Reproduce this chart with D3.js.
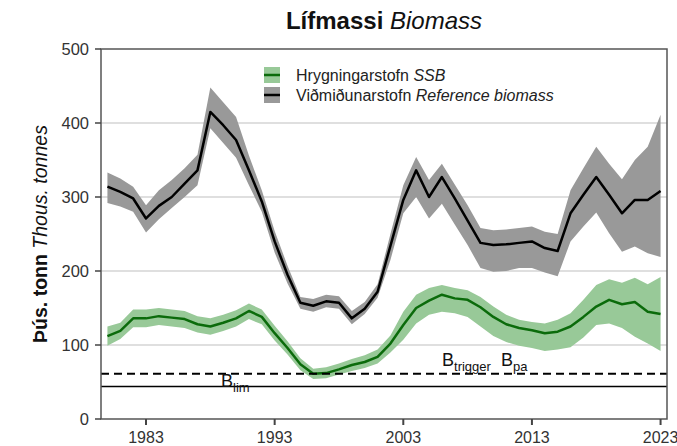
<!DOCTYPE html>
<html lang="is">
<head>
<meta charset="UTF-8">
<title>Lífmassi Biomass</title>
<script src="https://d3js.org/d3.v7.min.js"></script>
<style>
  body { margin: 0; background: #fff; }
  svg { font-family: "Liberation Sans", Arial, sans-serif; }
  .tick-label { fill: #333; font-size: 16px; }
</style>
</head>
<body>
<svg width="677" height="446"></svg>
<script>
// years 1980-2023
const years = d3.range(1980, 2024);

// Viðmiðunarstofn / reference biomass (thous. tonnes)
const refBio = [314, 307, 298, 271, 288, 300, 318, 336, 415, 397, 377, 336, 294, 240,
  195, 157, 153, 159, 157, 136, 149, 172, 234, 296, 336, 300, 327, 298, 268, 238,
  235, 236, 238, 240, 231, 227, 278, 303, 327, 303, 278, 296, 296, 308];
const refLo = [292, 287, 280, 252, 270, 285, 300, 316, 393, 373, 353, 316, 280, 225,
  183, 149, 145, 151, 149, 128, 142, 164, 215, 278, 300, 271, 291, 263, 235, 204,
  199, 200, 204, 204, 198, 193, 240, 260, 279, 251, 226, 233, 224, 219];
const refHi = [333, 325, 314, 289, 309, 323, 339, 357, 448, 428, 408, 356, 309, 254,
  207, 165, 162, 168, 166, 146, 158, 182, 250, 316, 354, 323, 345, 317, 289, 258,
  255, 256, 258, 260, 253, 250, 309, 339, 368, 345, 324, 350, 368, 411];

// Hrygningarstofn / SSB (thous. tonnes)
const ssb = [112, 119, 136, 136, 139, 137, 135, 128, 125, 130, 136, 146, 138, 116,
  96, 74, 61, 62, 67, 73, 77, 84, 102, 127, 150, 160, 168, 163, 161, 151,
  138, 128, 123, 120, 116, 118, 125, 138, 152, 161, 155, 158, 145, 142];
const ssbLo = [99, 108, 124, 124, 127, 125, 123, 117, 114, 119, 125, 135, 128, 106,
  87, 66, 54, 55, 60, 65, 69, 75, 90, 107, 129, 141, 145, 143, 138, 125,
  112, 104, 99, 96, 92, 94, 97, 110, 127, 129, 123, 111, 102, 92];
const ssbHi = [125, 130, 148, 148, 150, 148, 146, 139, 136, 141, 147, 156, 148, 126,
  105, 82, 68, 70, 75, 81, 86, 94, 113, 145, 168, 177, 181, 177, 174, 165,
  152, 141, 134, 131, 129, 134, 143, 161, 181, 189, 184, 191, 182, 192];

const yTicks = [0, 100, 200, 300, 400, 500];
const xTicks = [1983, 1993, 2003, 2013, 2023];
const bLim = 44;
const bTrigger = 61;

const svg = d3.select("svg");
const box = {left: 101, right: 667, top: 49, bottom: 419};

const x = d3.scaleLinear().domain([1979.5, 2023.5]).range([box.left, box.right]);
const y = d3.scaleLinear().domain([0, 500]).range([box.bottom, box.top]);

// grid
svg.append("g").selectAll("line")
  .data(yTicks.filter(d => d > 0 && d < 500))
  .join("line")
  .attr("x1", box.left).attr("x2", box.right)
  .attr("y1", d => y(d)).attr("y2", d => y(d))
  .attr("stroke", "#d4d4d4").attr("stroke-width", 1.5);

function band(lo, hi) {
  return d3.area()
    .x((d, i) => x(years[i]))
    .y0((d, i) => y(lo[i]))
    .y1((d, i) => y(hi[i]))(years);
}
function line(vals) {
  return d3.line().x((d, i) => x(years[i])).y(d => y(d))(vals);
}

svg.append("path").attr("d", band(refLo, refHi)).attr("fill", "#999999");
svg.append("path").attr("d", band(ssbLo, ssbHi)).attr("fill", "#98c998");
svg.append("path").attr("d", line(refBio))
  .attr("fill", "none").attr("stroke", "#000").attr("stroke-width", 2.5)
  .attr("stroke-linejoin", "round");
svg.append("path").attr("d", line(ssb))
  .attr("fill", "none").attr("stroke", "#0b6b0b").attr("stroke-width", 2.5)
  .attr("stroke-linejoin", "round");

// reference points
svg.append("line")
  .attr("x1", box.left).attr("x2", box.right)
  .attr("y1", y(bTrigger)).attr("y2", y(bTrigger))
  .attr("stroke", "#000").attr("stroke-width", 2)
  .attr("stroke-dasharray", "8,5");
svg.append("line")
  .attr("x1", box.left).attr("x2", box.right)
  .attr("y1", y(bLim)).attr("y2", y(bLim))
  .attr("stroke", "#000").attr("stroke-width", 1.5);

function subLabel(xPos, yPos, parts) {
  const t = svg.append("text").attr("x", xPos).attr("y", yPos)
    .attr("font-size", 18).attr("fill", "#111");
  parts.forEach(p => {
    t.append("tspan").text(p[0]);
    t.append("tspan").text(p[1]).attr("font-size", 13).attr("dy", 5);
    if (p[2]) t.append("tspan").text(p[2]).attr("dy", -5);
  });
}
subLabel(442, y(bTrigger) - 8, [["B", "trigger", "\u00a0\u00a0"], ["B", "pa"]]);
subLabel(221, y(bLim) + 1, [["B", "lim"]]);

// box
svg.append("rect")
  .attr("x", box.left).attr("y", box.top)
  .attr("width", box.right - box.left).attr("height", box.bottom - box.top)
  .attr("fill", "none").attr("stroke", "#555").attr("stroke-width", 1.5);

// y axis
const yAx = svg.append("g");
yAx.selectAll("line").data(yTicks).join("line")
  .attr("x1", box.left - 6).attr("x2", box.left)
  .attr("y1", d => y(d)).attr("y2", d => y(d))
  .attr("stroke", "#444").attr("stroke-width", 1.5);
yAx.selectAll("text").data(yTicks).join("text")
  .attr("class", "tick-label")
  .attr("x", box.left - 12).attr("y", d => y(d))
  .attr("text-anchor", "end").attr("dy", "0.35em")
  .style("font-size", "16.5px")
  .text(d => d);

// x axis
const xAx = svg.append("g");
xAx.selectAll("line").data(xTicks).join("line")
  .attr("x1", d => x(d)).attr("x2", d => x(d))
  .attr("y1", box.bottom).attr("y2", box.bottom + 6)
  .attr("stroke", "#444").attr("stroke-width", 2);
xAx.selectAll("text").data(xTicks).join("text")
  .attr("class", "tick-label")
  .attr("x", d => x(d)).attr("y", 443)
  .attr("text-anchor", "middle")
  .text(d => d);

// title
const title = svg.append("text")
  .attr("x", (box.left + box.right) / 2).attr("y", 29)
  .attr("text-anchor", "middle").attr("font-size", 24).attr("fill", "#111");
title.append("tspan").text("Lífmassi ").attr("font-weight", "bold");
title.append("tspan").text("Biomass").attr("font-style", "italic");

// y title
const yTitle = svg.append("text")
  .attr("transform", `translate(47, ${(box.top + box.bottom) / 2}) rotate(-90)`)
  .attr("text-anchor", "middle").attr("font-size", 19.5).attr("fill", "#111");
yTitle.append("tspan").text("Þús. tonn ").attr("font-weight", "bold");
yTitle.append("tspan").text("Thous. tonnes").attr("font-style", "italic");

// legend
const legend = [
  {name: "Hrygningarstofn ", it: "SSB", fill: "#98c998", stroke: "#0b6b0b"},
  {name: "Viðmiðunarstofn ", it: "Reference biomass", fill: "#999999", stroke: "#000"}
];
const lg = svg.append("g").selectAll("g").data(legend).join("g")
  .attr("transform", (d, i) => `translate(264, ${75 + i * 20})`);
lg.append("rect").attr("x", 0).attr("y", -8).attr("width", 16).attr("height", 16)
  .attr("fill", d => d.fill);
lg.append("line").attr("x1", 0).attr("x2", 16).attr("y1", 0).attr("y2", 0)
  .attr("stroke", d => d.stroke).attr("stroke-width", 2.5);
const lt = lg.append("text").attr("x", 32).attr("dy", "0.35em")
  .attr("font-size", 16).attr("fill", "#222");
lt.append("tspan").text(d => d.name);
lt.append("tspan").text(d => d.it).attr("font-style", "italic");
</script>
</body>
</html>
